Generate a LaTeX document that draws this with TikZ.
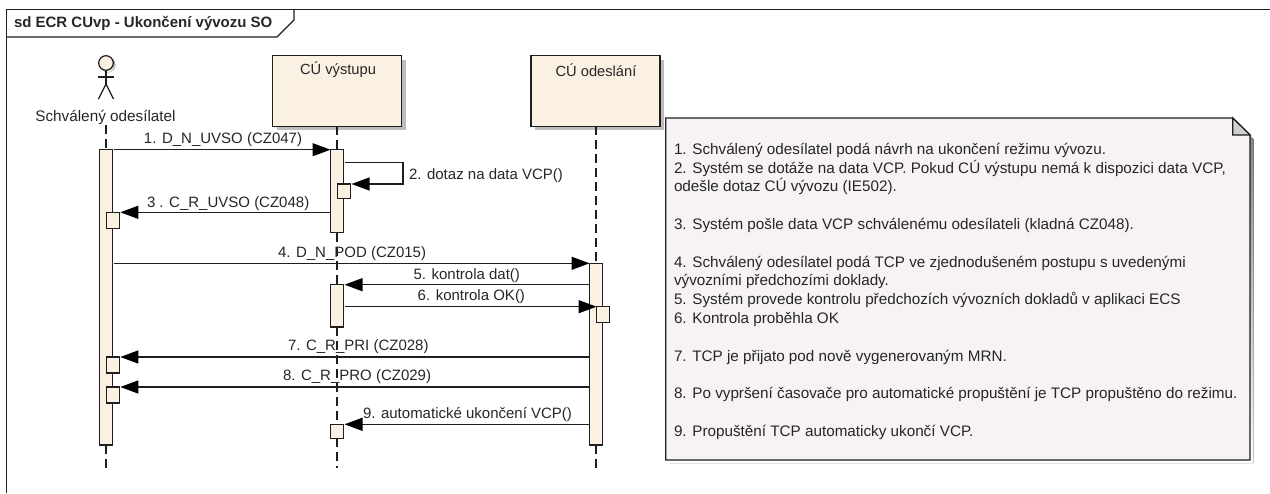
\documentclass[tikz,border=0pt]{standalone}
\usepackage{fontspec}
\setmainfont{Liberation Sans}
\usetikzlibrary{arrows.meta,shadows}
\definecolor{boxfill}{HTML}{FBF1E3}
\definecolor{notefill}{HTML}{F6F2F6}
\definecolor{foldfill}{HTML}{CFCED2}
\definecolor{shade}{HTML}{BDBDBD}
\definecolor{ink}{HTML}{1E1E1E}
\tikzset{
  x=1pt,y=-1pt,
  every node/.style={inner sep=0pt,outer sep=0pt,text=black!85},
  lbl/.style={font=\fontsize{15pt}{17pt}\selectfont},
  objbox/.style={draw=ink,line width=1.4pt,fill=boxfill,anchor=north west,minimum width=129pt,minimum height=70.5pt,
     drop shadow={shadow xshift=4pt,shadow yshift=-4pt,fill=shade,opacity=1}},
  bar/.style={draw=ink,line width=1.4pt,fill=boxfill,anchor=north west,minimum width=13pt},
  small/.style={draw=ink,line width=1.4pt,fill=boxfill,anchor=north west,minimum width=13pt},
  life/.style={draw=ink,line width=1.3pt,dash pattern=on 9pt off 5pt},
  msg/.style={draw=ink,line width=1.2pt,-{Triangle[length=18pt,width=13pt,color=black]}},
  stick/.style={draw=ink,line width=1.2pt},
}
\begin{document}
\begin{tikzpicture}
\useasboundingbox (0,0) rectangle (1270,493);
% frame
\draw[ink,line width=1.4pt] (6.5,493) -- (6.5,9.5) -- (1270,9.5);
\draw[ink,line width=1.4pt] (6.5,37) -- (277,37) -- (294,20) -- (294,9.5);
\node[anchor=west,font=\fontsize{15pt}{17pt}\selectfont\bfseries] (title) at (14,23.5) {sd ECR CUvp - Ukončení vývozu SO};
% actor
\fill[shade] (108,65) circle (7.3);
\node[draw=ink,line width=1.2pt,fill=boxfill,circle,minimum size=14.6pt] (head) at (106,63) {};
\coordinate (hip) at (106,84);
\coordinate (armL) at (98,77);
\coordinate (armR) at (114,77);
\coordinate (legL) at (98.5,99);
\coordinate (legR) at (113.5,99);
\draw[stick] (head.south) -- (hip);
\draw[stick] (armL) -- (armR);
\draw[stick] (legL) -- (hip) -- (legR);
\node[lbl,font=\fontsize{15.3pt}{17pt}\selectfont] (actor) at (105.5,117) {Schválený odesílatel};
% objects
\node[objbox] (o2) at (272.5,55.7) {};
\node[lbl,anchor=center,font=\fontsize{14.7pt}{17pt}\selectfont] (o2t) at (338,70) {CÚ výstupu};
\node[objbox] (o3) at (531,55.7) {};
\node[lbl,anchor=center,font=\fontsize{14.7pt}{17pt}\selectfont] (o3t) at (596,70) {CÚ odeslání};
% activation bars
\node[bar,minimum height=295.3pt] (a1) at (99.5,149.7) {};
\node[bar,minimum height=83pt] (a2) at (330.5,149.7) {};
\node[bar,minimum height=42.3pt] (a2b) at (330.5,284.7) {};
\node[bar,minimum height=181.7pt] (a3) at (589.5,263.3) {};
% small execution boxes
\node[small,minimum height=14.7pt] (s2) at (337.5,184) {};
\node[small,minimum height=16.4pt] (s1a) at (106.3,212.3) {};
\node[small,minimum height=15.6pt] (s3) at (596.5,306.7) {};
\node[small,minimum height=16pt] (s1b) at (106.3,357) {};
\node[small,minimum height=16pt] (s1c) at (106.3,387) {};
\node[small,minimum height=14pt] (s2b) at (330.5,424.3) {};
% lifelines
\coordinate (e1) at (106,468);
\coordinate (e2) at (337,468);
\coordinate (e3) at (596,468);
\draw[life] (106,125) -- (a1.north);
\draw[life] (a1.south) -- (e1);
\draw[life] (o2.south -| a2.north) -- (a2.north);
\draw[life] (a2.south) -- (a2b.north);
\draw[life] (a2b.south) -- (s2b.north);
\draw[life] (s2b.south) -- (e2);
\draw[life] (o3.south -| a3.north) -- (a3.north);
\draw[life] (a3.south) -- (e3);
% messages
\draw[msg] (114,149.7) -- (a2.north west);
\draw[msg] (345,162.5) -- (403,162.5) -- (403,184) -- ([xshift=1pt]s2.north east);
\draw[msg] (a2.west |- 0,212.3) -- ([xshift=1pt]s1a.north east);
\draw[msg] (114,263.3) -- (a3.north west);
\draw[msg] (a3.west |- 0,284.7) -- ([xshift=1pt]a2b.north east);
\draw[msg] (345,306.7) -- (s3.north west);
\draw[msg] (a3.west |- 0,357) -- ([xshift=1pt]s1b.north east);
\draw[msg] (a3.west |- 0,387) -- ([xshift=1pt]s1c.north east);
\draw[msg] (a3.west |- 0,424.3) -- ([xshift=1pt]s2b.north east);
% message labels
\node[lbl] (l1) at (223,140) {1. D\_N\_UVSO (CZ047)};
\node[lbl,anchor=west] (l2) at (409,175.7) {2. dotaz na data VCP()};
\node[lbl,anchor=west] (l3) at (147,204) {3 . C\_R\_UVSO (CZ048)};
\node[lbl,anchor=west] (l4) at (278,253.3) {4. D\_N\_POD (CZ015)};
\node[lbl,anchor=east] (l5) at (520,276) {5. kontrola dat()};
\node[lbl,anchor=east] (l6) at (525,297) {6. kontrola OK()};
\node[lbl,anchor=west] (l7) at (288,347) {7. C\_R\_PRI (CZ028)};
\node[lbl,anchor=west] (l8) at (283,377) {8. C\_R\_PRO (CZ029)};
\node[lbl,anchor=west] (l9) at (363,415) {9. automatické ukončení VCP()};
% note
\fill[shade] (669.5,122) -- (1232.7,122) -- (1253.5,139) -- (1253.5,463) -- (669.5,463) -- cycle;
\draw[ink,line width=1.4pt,fill=notefill] (665.7,118) -- (1232.7,118) -- (1250,135) -- (1250,460) -- (665.7,460) -- cycle;
\draw[ink,line width=1.2pt,fill=foldfill] (1232.7,118) -- (1232.7,135) -- (1250,135) -- cycle;
\node[anchor=north west,align=left,font=\fontsize{15.25pt}{18.82pt}\selectfont] (notetext) at (674,143) {%
1. Schválený odesílatel podá návrh na ukončení režimu vývozu.\\
2. Systém se dotáže na data VCP. Pokud CÚ  výstupu nemá k dispozici data VCP,\\
odešle dotaz CÚ vývozu (IE502).\\
~\\
3. Systém pošle data VCP schválenému odesílateli (kladná CZ048).\\
~\\
4. Schválený odesílatel podá TCP ve zjednodušeném postupu s uvedenými\\
vývozními předchozími doklady.\\
5. Systém provede kontrolu předchozích vývozních dokladů v aplikaci ECS\\
6. Kontrola proběhla OK\\
~\\
7. TCP je přijato pod nově vygenerovaným MRN.\\
~\\
8. Po vypršení časovače pro automatické propuštění je TCP propuštěno do režimu.\\
~\\
9. Propuštění TCP automaticky ukončí VCP.};
\end{tikzpicture}
\end{document}
